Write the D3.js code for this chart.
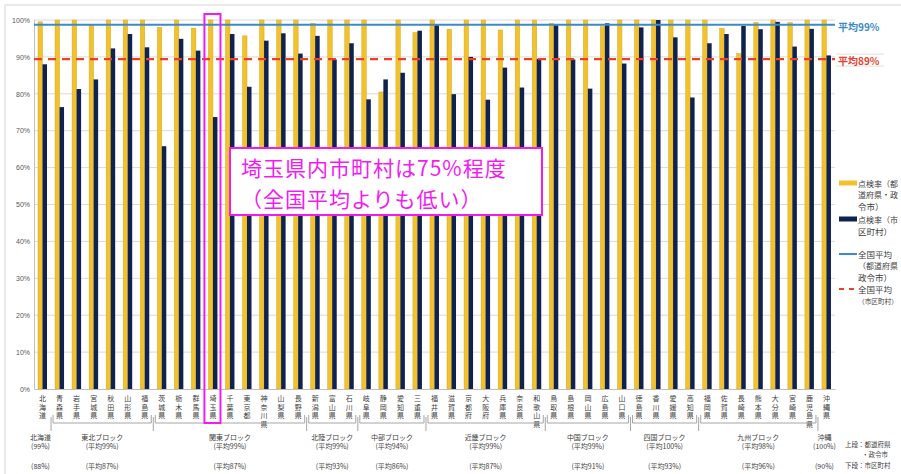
<!DOCTYPE html>
<html>
<head>
<meta charset="utf-8">
<script src="https://cdn.jsdelivr.net/npm/d3@7"></script>
<style>
  body { margin: 0; background: #fff; }
  svg { display: block; font-family: "Noto Sans CJK JP", "Noto Sans", sans-serif; }
</style>
</head>
<body>
<svg id="chart" width="901" height="474"></svg>
<script>
// 都道府県別 点検率
const prefectures = ["北海道","青森県","岩手県","宮城県","秋田県","山形県","福島県","茨城県","栃木県","群馬県","埼玉県","千葉県","東京都","神奈川県","山梨県","長野県","新潟県","富山県","石川県","岐阜県","静岡県","愛知県","三重県","福井県","滋賀県","京都府","大阪府","兵庫県","奈良県","和歌山県","鳥取県","島根県","岡山県","広島県","山口県","徳島県","香川県","愛媛県","高知県","福岡県","佐賀県","長崎県","熊本県","大分県","宮崎県","鹿児島県","沖縄県"];

// 点検率（都道府県・政令市）
const prefRate = [99.5,100,100,98.6,100,100,100,98.0,100,97.8,100,100,95.7,100,100,100,99.1,100,100,100,80.5,100,96.6,100,97.5,100,100,97.3,100,100,99.1,100,100,98.2,100,100,100,100,100,100,97.7,90.9,99.3,100,99.3,100,100];

// 点検率（市区町村）
const muniRate = [88.0,76.4,81.3,83.9,92.3,96.2,92.6,65.8,94.9,91.7,73.7,96.2,81.9,94.4,96.4,90.9,95.7,89.3,93.7,78.5,83.9,85.7,97.1,98.6,79.9,90.0,78.4,87.1,81.7,89.5,98.6,89.3,81.4,99.1,88.2,98.0,100,95.3,79.0,93.7,96.2,98.4,97.5,99.5,92.8,97.6,90.4];

// 全国平均
const avgPref = 98.7;
const avgMuni = 89.4;

const yTicks = [0,10,20,30,40,50,60,70,80,90,100];

// ブロック区分
const blockNames = ["北海道","東北ブロック","関東ブロック","北陸ブロック","中部ブロック","近畿ブロック","中国ブロック","四国ブロック","九州ブロック","沖縄"];
const blockSizes = [1,6,9,3,4,7,5,4,7,1];
const blockUpper = ["(99%)","(平均99%)","(平均99%)","(平均99%)","(平均94%)","(平均99%)","(平均99%)","(平均100%)","(平均98%)","(100%)"];
const blockLower = ["(88%)","(平均87%)","(平均87%)","(平均93%)","(平均86%)","(平均87%)","(平均91%)","(平均93%)","(平均96%)","(90%)"];

const highlightPref = "埼玉県";
const noteLines = ["埼玉県内市町村は75%程度", "（全国平均よりも低い）"];

const legendItems = [
  { kind: "rect", color: "#f2c12e", lines: ["点検率（都", "道府県・政", "令市）"] },
  { kind: "rect", color: "#10224f", lines: ["点検率（市", "区町村）"] },
  { kind: "line", color: "#3b8bc9", lines: ["全国平均", "（都道府県", "政令市）"] },
  { kind: "dash", color: "#e5412d", lines: ["全国平均", "（市区町村）"] }
];

const COL_PREF = "#f2c12e", COL_MUNI = "#10224f";
const COL_AVG_PREF = "#3b8bc9", COL_AVG_MUNI = "#e5412d";
const MAGENTA = "#f21cf2";
const TXT = "#404040";

const svg = d3.select("#chart");

// outer frame
svg.append("rect").attr("x", 5).attr("y", 5).attr("width", 1000).attr("height", 1000)
  .attr("fill", "none").attr("stroke", "#d6d6d6").attr("stroke-width", 1);

const x = d3.scaleBand().domain(prefectures).range([34, 835]).paddingInner(0).paddingOuter(0);
const bw = x.bandwidth();
const sub = d3.scaleBand().domain(["pref","muni"]).range([4, 13]);
const y = d3.scaleLinear().domain([0, 100]).range([389, 20]);

// grid lines
svg.append("g").selectAll("line").data(yTicks.filter(d => d > 0)).join("line")
  .attr("x1", 34).attr("x2", 835)
  .attr("y1", d => y(d)).attr("y2", d => y(d))
  .attr("stroke", "#d9d9d9").attr("stroke-width", 1);

// y axis
const yAxis = svg.append("g").attr("transform", "translate(34,0)")
  .call(d3.axisLeft(y).tickValues(yTicks).tickFormat(d => d + "%").tickSize(0).tickPadding(4));
yAxis.select(".domain").attr("stroke", "#bfbfbf");
yAxis.selectAll("text").attr("font-size", 7).attr("fill", "#595959")
  .attr("font-family", "Liberation Sans, Arial, sans-serif");

// bars
const groups = svg.append("g").selectAll("g").data(prefectures).join("g")
  .attr("transform", d => `translate(${x(d)},0)`);
groups.append("rect")
  .attr("x", sub("pref")).attr("width", sub.bandwidth())
  .attr("y", (d, i) => y(prefRate[i])).attr("height", (d, i) => y(0) - y(prefRate[i]))
  .attr("fill", COL_PREF).attr("stroke", "#d9a91f").attr("stroke-width", 0.5);
groups.append("rect")
  .attr("x", sub("muni")).attr("width", sub.bandwidth())
  .attr("y", (d, i) => y(muniRate[i])).attr("height", (d, i) => y(0) - y(muniRate[i]))
  .attr("fill", COL_MUNI);

// x axis baseline
const xAxis = svg.append("g").attr("transform", `translate(0,${y(0)})`)
  .call(d3.axisBottom(x).tickSize(0).tickFormat(""));
xAxis.select(".domain").attr("stroke", "#bfbfbf");

// vertical category labels
const lab = svg.append("g").attr("font-size", 7).attr("fill", TXT).attr("text-anchor", "middle");
prefectures.forEach(p => {
  Array.from(p).forEach((ch, k) => {
    lab.append("text").attr("x", x(p) + bw / 2).attr("y", 398 + k * 8.5)
      .attr("dominant-baseline", "central").text(ch);
  });
});

// block brackets and labels
const blk = svg.append("g");
let start = 0;
blockNames.forEach((name, b) => {
  const n = blockSizes[b];
  const x0 = x(prefectures[start]);
  const x1 = x(prefectures[start + n - 1]) + bw;
  const cx = n === 1 ? x0 + bw / 2 - 2 : (x0 + x1) / 2;
  if (n > 1) {
    blk.append("path")
      .attr("d", `M${x0 + 2},415 V423 H${x1 - 2} V415`)
      .attr("fill", "none").attr("stroke", "#a6a6a6").attr("stroke-width", 1);
  }
  if (start > 0) {
    blk.append("line").attr("x1", x0).attr("x2", x0).attr("y1", 417).attr("y2", 431)
      .attr("stroke", "#a6a6a6").attr("stroke-width", 1);
  }
  const t = blk.append("g").attr("font-size", 7).attr("fill", TXT).attr("text-anchor", "middle");
  t.append("text").attr("x", cx).attr("y", 437).attr("dominant-baseline", "central").text(name);
  t.append("text").attr("x", cx).attr("y", 446).attr("dominant-baseline", "central").text(blockUpper[b]);
  t.append("text").attr("x", cx).attr("y", 466).attr("dominant-baseline", "central").text(blockLower[b]);
  start += n;
});

// row notes
const notes = svg.append("g").attr("font-size", 6.5).attr("fill", TXT);
notes.append("text").attr("x", 845).attr("y", 444).attr("dominant-baseline", "central").text("上段：都道府県");
notes.append("text").attr("x", 862).attr("y", 454).attr("dominant-baseline", "central").text("・政令市");
notes.append("text").attr("x", 845).attr("y", 465).attr("dominant-baseline", "central").text("下段：市区町村");

// average lines
svg.append("line").attr("x1", 34).attr("x2", 835)
  .attr("y1", y(avgPref)).attr("y2", y(avgPref))
  .attr("stroke", COL_AVG_PREF).attr("stroke-width", 2);
svg.append("line").attr("x1", 34).attr("x2", 835)
  .attr("y1", y(avgMuni)).attr("y2", y(avgMuni))
  .attr("stroke", COL_AVG_MUNI).attr("stroke-width", 2.2).attr("stroke-dasharray", "8,6");

svg.append("text").attr("x", 838).attr("y", y(avgPref) + 1.5).attr("dominant-baseline", "central")
  .attr("font-size", 10).attr("font-weight", "bold").attr("fill", COL_AVG_PREF)
  .text(`平均${Math.round(avgPref)}%`);
svg.append("line").attr("x1", 836).attr("x2", 884).attr("y1", y(avgMuni) - 5).attr("y2", y(avgMuni) - 5)
  .attr("stroke", "#e0e0e0");
svg.append("line").attr("x1", 836).attr("x2", 884).attr("y1", y(avgMuni) + 7).attr("y2", y(avgMuni) + 7)
  .attr("stroke", "#e0e0e0");
svg.append("text").attr("x", 838).attr("y", y(avgMuni) + 1.5).attr("dominant-baseline", "central")
  .attr("font-size", 10).attr("font-weight", "bold").attr("fill", COL_AVG_MUNI)
  .text(`平均${Math.round(avgMuni)}%`);

// legend
const LEGEND_FONT = 8.5;
const legendTextMax = 40;
const lg = svg.append("g").attr("font-size", LEGEND_FONT).attr("fill", TXT);
const legendTops = [183, 219, 254, 289];
legendItems.forEach((item, i) => {
  const ty = legendTops[i];
  if (item.kind === "rect") {
    lg.append("rect").attr("x", 839).attr("y", ty - 2.5).attr("width", 18).attr("height", 5).attr("fill", item.color);
  } else {
    lg.append("line").attr("x1", 839).attr("x2", 857).attr("y1", ty).attr("y2", ty)
      .attr("stroke", item.color).attr("stroke-width", 2)
      .attr("stroke-dasharray", item.kind === "dash" ? "5,5" : null);
  }
  item.lines.forEach((ln, k) => {
    const t = lg.append("text").attr("x", 858).attr("y", ty + k * 11.5)
      .attr("dominant-baseline", "central").text(ln);
    // shrink a long line so it stays inside the page
    const len = t.node().getComputedTextLength();
    if (len > legendTextMax) t.attr("font-size", LEGEND_FONT * legendTextMax / len);
  });
});

// highlight around 埼玉県
svg.append("rect").attr("x", x(highlightPref)).attr("y", 14)
  .attr("width", bw - 1).attr("height", 423 - 14)
  .attr("fill", "none").attr("stroke", MAGENTA).attr("stroke-width", 2);

// callout
svg.append("rect").attr("x", 230).attr("y", 148).attr("width", 312).attr("height", 67)
  .attr("fill", "#fff").attr("stroke", MAGENTA).attr("stroke-width", 2);
noteLines.forEach((ln, k) => {
  svg.append("text").attr("x", 241).attr("y", 167 + k * 31).attr("dominant-baseline", "central")
    .attr("font-size", 21).attr("letter-spacing", 1).attr("fill", MAGENTA).text(ln);
});
</script>
</body>
</html>
